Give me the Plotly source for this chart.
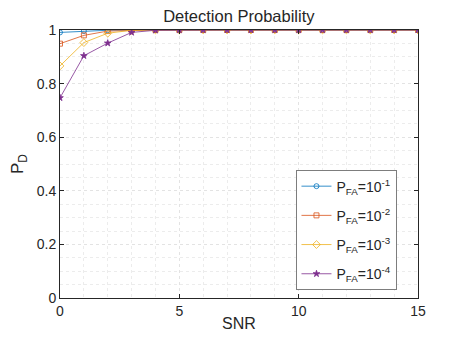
import plotly.graph_objects as go

snr = list(range(0, 16))
pd_1 = [0.991, 0.996, 0.999] + [1.0] * 13
pd_2 = [0.949, 0.980, 0.996, 0.999] + [1.0] * 12
pd_3 = [0.866, 0.953, 0.988, 0.999] + [1.0] * 12
pd_4 = [0.747, 0.904, 0.951, 0.991, 0.999] + [1.0] * 11

series = [
    ("P<sub>FA</sub>=10<sup>-1</sup>", pd_1, "#0072BD", "circle-open", 5),
    ("P<sub>FA</sub>=10<sup>-2</sup>", pd_2, "#D95319", "square-open", 5),
    ("P<sub>FA</sub>=10<sup>-3</sup>", pd_3, "#EDB120", "diamond-open", 6),
    ("P<sub>FA</sub>=10<sup>-4</sup>", pd_4, "#7E2F8E", "star", 5),
]

fig = go.Figure()
for i, (name, vals, color, sym, size) in enumerate(series):
    fig.add_trace(go.Scatter(
        x=snr, y=vals, name=name, mode="lines+markers", legendgroup=f"g{i}",
        line=dict(color=color, width=0.8),
        marker=dict(symbol=sym, size=size, color=color, line=dict(color=color, width=0.8)),
    ))

axis_common = dict(
    showline=True, linecolor="#262626", linewidth=1, mirror="ticks",
    ticks="inside", ticklen=4, tickcolor="#262626",
    showgrid=True, gridcolor="#e3e3e3", griddash="dot", gridwidth=1,
    zeroline=False, tickfont=dict(size=14, color="#262626"), automargin=False,
)

fig.update_xaxes(
    range=[0, 15], dtick=5, title=dict(text="SNR", font=dict(size=16, color="#262626"), standoff=0),
    minor=dict(dtick=1, showgrid=True, gridcolor="#ececec", griddash="dot", ticks=""),
    **axis_common,
)
fig.update_yaxes(
    range=[0, 1], dtick=0.2, tickformat="~g",
    title=dict(text="P<sub>D</sub>", font=dict(size=17, color="#262626"), standoff=10),
    minor=dict(dtick=0.05, showgrid=True, gridcolor="#ececec", griddash="dot", ticks=""),
    **axis_common,
)

# page body adds an 8px offset, so the figure is sized to the remaining window
fig.update_layout(
    width=450, height=335,
    margin=dict(l=52, r=40, t=22, b=45),
    paper_bgcolor="white", plot_bgcolor="white",
    font=dict(family="Liberation Sans, Arial, sans-serif", color="#262626"),
    title=dict(text="Detection Probability", x=0.513, xanchor="center", y=0.976, yanchor="middle",
               font=dict(size=16.5, color="#262626")),
    legend=dict(x=0.941, y=0.03, xanchor="right", yanchor="bottom",
                bgcolor="white", bordercolor="#262626", borderwidth=0.6,
                font=dict(size=14, color="#262626"), itemwidth=30,
                tracegroupgap=8),
)

fig.write_html("out.html")
